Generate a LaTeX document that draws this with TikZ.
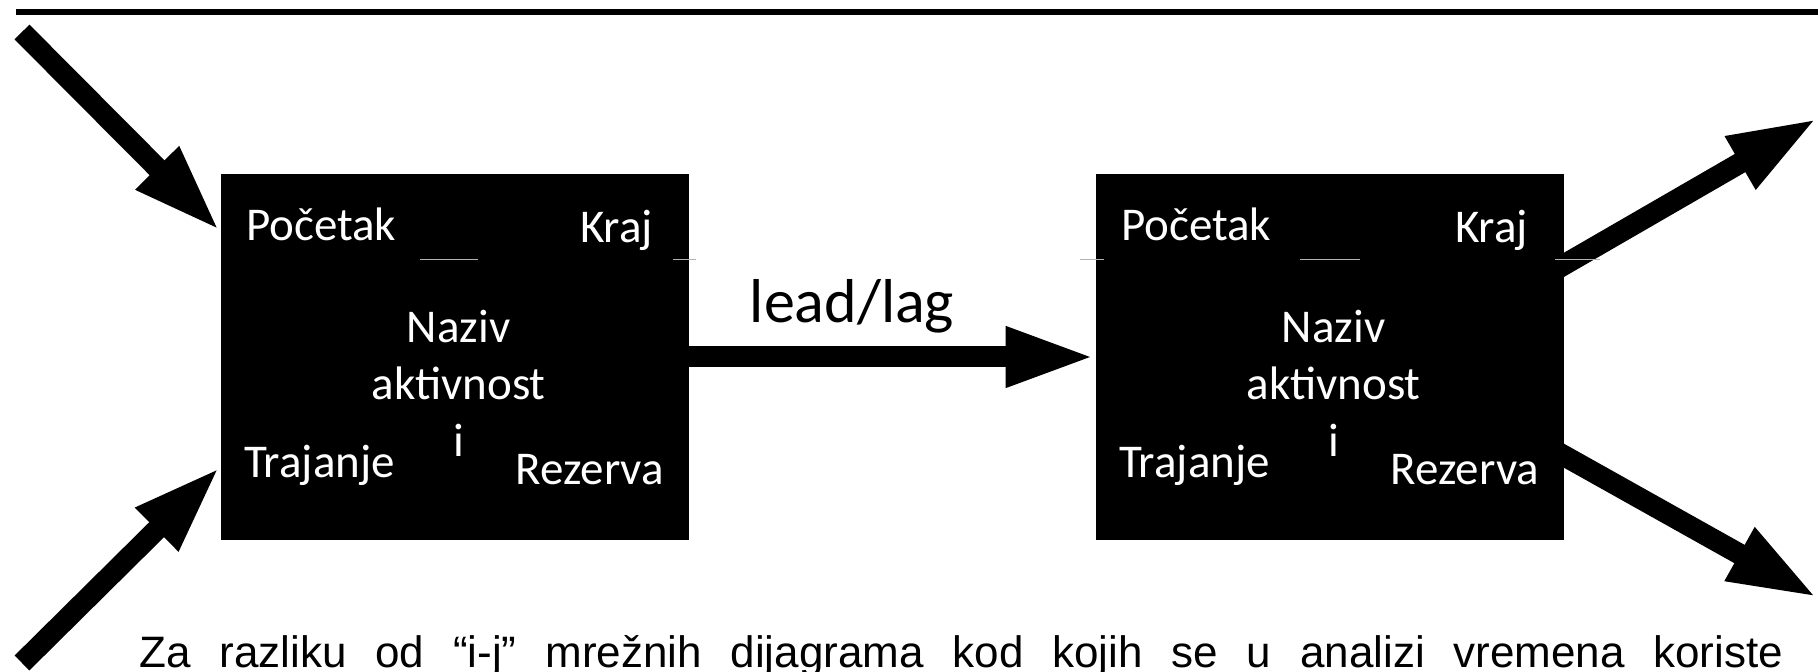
\documentclass[tikz,border=0pt]{standalone}
\usepackage{fontspec}
\newfontfamily\calibrifont{Carlito}
\newfontfamily\arialfont{Liberation Sans}
\usetikzlibrary{arrows.meta}

\begin{document}
\begin{tikzpicture}[x=0.5pt, y=-0.5pt,
    actbox/.style={rectangle, fill=black, inner sep=0pt, minimum width=234pt, minimum height=183pt},
    boxtext/.style={inner sep=0pt, text=white, font=\calibrifont\fontsize{23.5pt}{28pt}\selectfont},
    lagtext/.style={inner sep=0pt, font=\calibrifont\fontsize{31pt}{36pt}\selectfont},
    notetext/.style={inner sep=0pt, font=\arialfont\fontsize{22pt}{26pt}\selectfont},
    flow/.style={line width=10.5pt, -{Triangle[length=45pt, width=27.5pt]}},
    seam/.style={draw=black!30, line width=0.5pt}]
      \useasboundingbox (0,0) rectangle (1818,672);
      \clip (0,0) rectangle (1818,672);

      % top rule
      \draw[line width=3pt] (16,12) -- (1818,12);

      \node[actbox] (box1) at (455,357) {};
      \node[actbox] (box2) at (1330,357) {};

      \coordinate (in1) at (22,32);
      \coordinate (in2) at (22,663);
      \coordinate (out1) at (1818,118);
      \coordinate (out2) at (1818,598);

      \draw[flow] (in1) -- ([shift={(0,58)}]box1.north west);
      \draw[flow] (in2) -- ([shift={(0,-74)}]box1.south west);
      \draw[flow] (box1.east) -- (box2.west);
      \draw[flow] ([shift={(-26,106)}]box2.north east) -- (out1);
      \draw[flow] ([shift={(-26,-99)}]box2.south east) -- (out2);

      \node[lagtext, anchor=base] (laglabel) at (852,323) {lead/lag};

      % thin table seams
      \draw[seam] ([shift={(199,86)}]box1.north west) -- ++(58,0);
      \draw[seam] ([shift={(-16,86)}]box1.north east) -- ++(23,0);
      \draw[seam] ([shift={(-16,86)}]box2.north west) -- ++(24,0);
      \draw[seam] ([shift={(204,86)}]box2.north west) -- ++(60,0);
      \draw[seam] ([shift={(-9,86)}]box2.north east) -- ++(45,0);

      \foreach \b in {box1,box2} {
        \node[boxtext, anchor=base west] (\b-start) at ([shift={(25,67)}]\b.north west) {Početak};
        \node[boxtext, anchor=base east] (\b-end) at ([shift={(-36,69)}]\b.north east) {Kraj};
        \node[boxtext, anchor=base] (\b-name) at ([shift={(238,169)}]\b.north west) {Naziv};
        \node[boxtext, anchor=base] (\b-name2) at ([shift={(238,226)}]\b.north west) {aktivnost};
        \node[boxtext, anchor=base] (\b-name3) at ([shift={(238,283)}]\b.north west) {i};
        \node[boxtext, anchor=base west] (\b-dur) at ([shift={(23,304)}]\b.north west) {Trajanje};
        \node[boxtext, anchor=base east] (\b-slack) at ([shift={(-25,311)}]\b.north east) {Rezerva};
      }

      \node[notetext, anchor=base west] (note) at (139,667)
        {\makebox[822pt][s]{Za razliku od “i-j” mrežnih dijagrama kod kojih se u analizi vremena koriste}};
    \end{tikzpicture}
\end{document}
